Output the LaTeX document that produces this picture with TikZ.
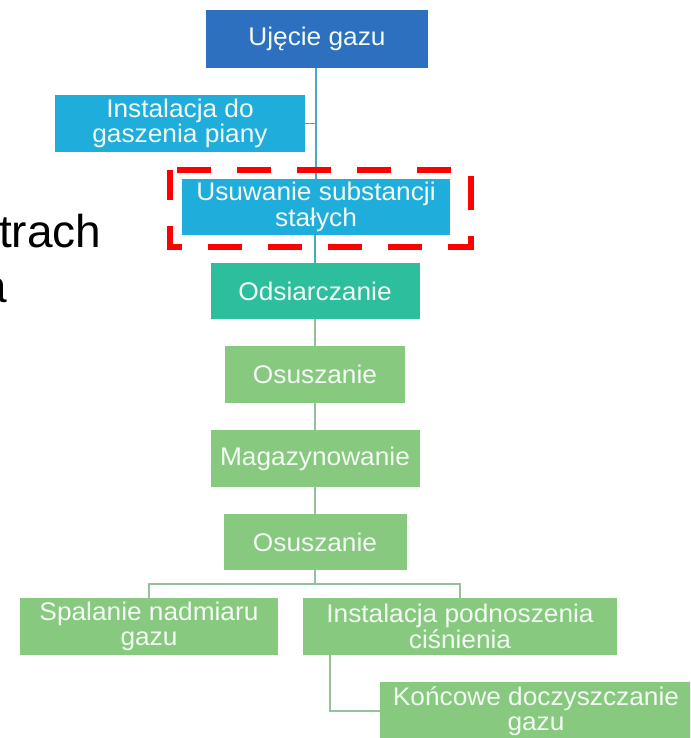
\documentclass[tikz,border=0pt]{standalone}
\usepackage{fontspec}
\setmainfont{Liberation Sans}
\newfontfamily\boxfont[FakeStretch=1.03]{Liberation Sans}

\definecolor{darkblue}{HTML}{2E70C0}
\definecolor{skyblue}{HTML}{1FAEDB}
\definecolor{tealbox}{HTML}{2CBE9D}
\definecolor{leaf}{HTML}{87C97F}
\definecolor{linkblue}{HTML}{4FA6CC}
\definecolor{linkgreen}{HTML}{95C09C}
\definecolor{boxtext}{HTML}{F4FAF4}

\begin{document}
\begin{tikzpicture}[x=1pt,y=-1pt,
  chartbox/.style={rectangle, inner sep=0pt, align=center, text=boxtext,
    font=\boxfont\fontsize{25.5}{25.5}\selectfont},
  link/.style={line width=1.7pt},
  sidetext/.style={anchor=base west, inner sep=0pt, text=black,
    font=\fontsize{46}{55}\selectfont},
]
\useasboundingbox (0,0) rectangle (690,738);
\clip (0,0) rectangle (690,738);

% process steps
\node[chartbox, fill=darkblue, minimum width=222pt, minimum height=58pt] (ujecie) at (317,39) {Ujęcie gazu};
\node[chartbox, fill=skyblue, minimum width=250pt, minimum height=57pt] (gasz) at (180,123.5) {Instalacja do\\gaszenia piany};
\node[chartbox, fill=skyblue, minimum width=268pt, minimum height=56pt] (usuw) at (316,207) {Usuwanie substancji\\stałych};
\node[chartbox, fill=tealbox, minimum width=209pt, minimum height=56pt] (odsi) at (315,291) {Odsiarczanie};
\node[chartbox, fill=leaf, minimum width=180pt, minimum height=57pt] (osu1) at (315,374.5) {Osuszanie};
\node[chartbox, fill=leaf, minimum width=209pt, minimum height=57pt] (maga) at (315,458.5) {Magazynowanie};
\node[chartbox, fill=leaf, minimum width=183pt, minimum height=56pt] (osu2) at (315,542) {Osuszanie};
\node[chartbox, fill=leaf, minimum width=258pt, minimum height=57pt] (spal) at (149,626.5) {Spalanie nadmiaru\\gazu};
\node[chartbox, fill=leaf, minimum width=314pt, minimum height=57pt] (podn) at (460,626.5) {Instalacja podnoszenia\\ciśnienia};
\node[chartbox, fill=leaf, minimum width=312pt, minimum height=58pt] (konc) at (536,711) {Końcowe doczyszczanie\\gazu};

% trunk connectors
\draw[link, linkblue] (ujecie.south -| usuw.north) -- (usuw.north);
\draw[link, linkblue!70!gray] (gasz.east) -- (gasz.east -| usuw.north);
\draw[link, linkblue!60!tealbox] (usuw.south -| odsi.north) -- (odsi.north);
\draw[link, linkgreen] (odsi.south) -- (osu1.north);
\draw[link, linkgreen] (osu1.south) -- (maga.north);
\draw[link, linkgreen] (maga.south) -- (osu2.north);

% branching below the last drying step
\coordinate (split) at (315,584);
\draw[link, linkgreen] (osu2.south) -- (split);
\draw[link, linkgreen] (spal.north) -- (spal.north |- split) -- (podn.north |- split) -- (podn.north);
\draw[link, linkgreen] ([xshift=-130pt]podn.south) |- (konc.west);

% highlight frame
\draw[red, line width=6pt, dash pattern=on 34pt off 26pt, dash phase=4pt]
  ([shift={(-12,-9)}]usuw.north west) rectangle ([shift={(21,12)}]usuw.south east);

% text running in from the left
\node[sidetext] (trach) at (-1,247) {trach};
\node[sidetext] (tail) at (-19,302) {a};
\end{tikzpicture}
\end{document}
